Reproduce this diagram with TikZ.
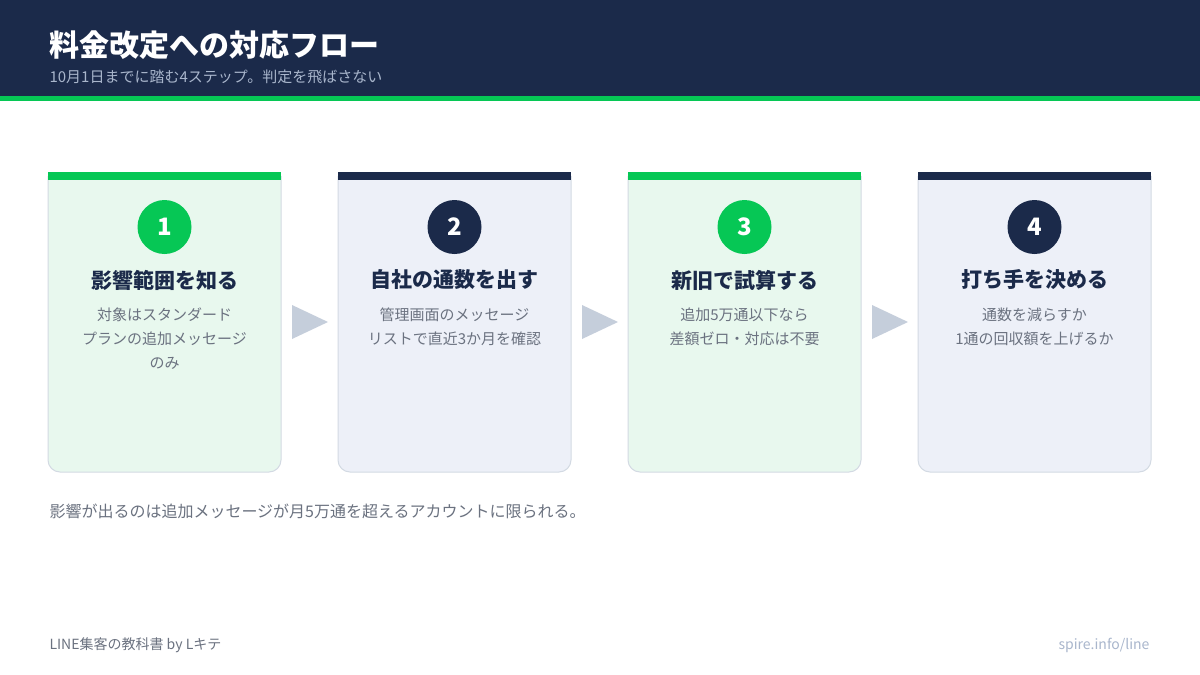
\documentclass[tikz,border=0pt]{standalone}
\usepackage{fontspec}
\setmainfont{Noto Sans CJK JP}
\definecolor{navy}{HTML}{1B2A4A}
\definecolor{lgreen}{HTML}{06C755}
\definecolor{gfill}{HTML}{E8F8EE}
\definecolor{bfill}{HTML}{EDF0F8}
\definecolor{bord}{HTML}{D3DAE3}
\definecolor{txtg}{HTML}{6B7280}
\definecolor{arr}{HTML}{C5CEDB}
\definecolor{subt}{HTML}{A9B6CC}
\begin{document}
\begin{tikzpicture}[x=1pt,y=-1pt,
  card/.style={draw=bord,line width=1pt,rounded corners=12pt},
  num/.style={circle,minimum size=54pt,inner sep=0pt,text=white,font=\fontsize{24}{24}\selectfont\bfseries},
  ttl/.style={text=navy,font=\fontsize{21}{24}\selectfont\bfseries},
  desc/.style={text=txtg,align=center,font=\fontsize{15}{24}\selectfont},
  tri/.style={fill=arr}]
\useasboundingbox (0,0) rectangle (1200,675);
\fill[white] (0,0) rectangle (1200,675);
\fill[navy] (0,0) rectangle (1200,96);
\fill[lgreen] (0,96) rectangle (1200,101);
\node[anchor=west,text=white,font=\fontsize{30}{30}\selectfont\bfseries] (title) at (46,45) {料金改定への対応フロー};
\node[anchor=west,text=subt,font=\fontsize{15}{15}\selectfont] (sub) at (46,77) {10月1日までに踏む4ステップ。判定を飛ばさない};
\foreach \i/\x/\f/\b/\n/\t/\d in {
 1/48/gfill/lgreen/1/影響範囲を知る/{対象はスタンダード\\プランの追加メッセージ\\のみ},
 2/338/bfill/navy/2/自社の通数を出す/{管理画面のメッセージ\\リストで直近3か月を確認},
 3/628/gfill/lgreen/3/新旧で試算する/{追加5万通以下なら\\差額ゼロ・対応は不要},
 4/918/bfill/navy/4/打ち手を決める/{通数を減らすか\\1通の回収額を上げるか}}{
  \path[card,fill=\f] (\x,176) -- (\x,472) -- (\x+233,472) -- (\x+233,176);
  \fill[\b] (\x,172) rectangle (\x+233,180);
  \node[num,fill=\b] (n\i) at (\x+116.5,227) {\n};
  \node[ttl] (t\i) at (\x+116.5,280) {\t};
  \node[desc,anchor=north] (d\i) at (\x+116.5,304) {\d};
}
\foreach \x/\i in {292/a,582/b,872/c}{
  \fill[tri] (\x,305) -- (\x+36,322) -- (\x,339) -- cycle;
}
\node[anchor=west,text=txtg,font=\fontsize{16}{16}\selectfont] (note) at (46,511) {影響が出るのは追加メッセージが月5万通を超えるアカウントに限られる。};
\node[anchor=west,text=txtg,font=\fontsize{14}{14}\selectfont] (foot) at (46,645) {LINE集客の教科書 by Lキテ};
\node[anchor=east,text=subt,font=\fontsize{14}{14}\selectfont] (url) at (1153,645) {spire.info/line};
\end{tikzpicture}
\end{document}
